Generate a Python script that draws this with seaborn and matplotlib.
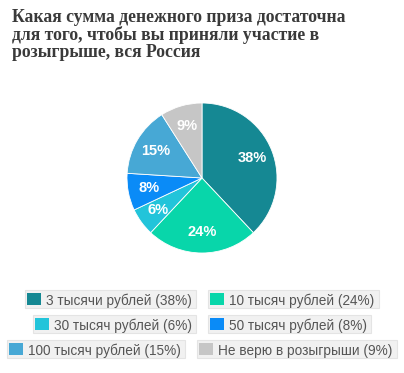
import matplotlib
matplotlib.use("Agg")
import matplotlib.pyplot as plt
from matplotlib.patches import Rectangle
import seaborn as sns

# data
categories = ["3 тысячи рублей", "10 тысяч рублей", "30 тысяч рублей",
              "50 тысяч рублей", "100 тысяч рублей", "Не верю в розыгрыши"]
shares = [38, 24, 6, 8, 15, 9]
colors = ["#158893", "#08d6aa", "#22c4da", "#0a8bf7", "#47a8d5", "#c6c6c6"]
title_lines = ["Какая сумма денежного приза достаточна",
               "для того, чтобы вы приняли участие в",
               "розыгрыше, вся Россия"]
legend_rows = [[0, 1], [2, 3], [4, 5]]

sns.set_theme(style="white")
plt.rcParams['font.family'] = ['Liberation Sans', 'DejaVu Sans']

W, H = 404, 373
fig = plt.figure(figsize=(W / 100, H / 100), dpi=100)
fig.patch.set_facecolor("white")

# pie: center (202,178) px, radius 75 px
cx, cy, r = 202, 178, 75
ax = fig.add_axes([(cx - r) / W, (H - cy - r) / H, 2 * r / W, 2 * r / H])
wedges, texts, autotexts = ax.pie(
    shares, colors=colors, startangle=90, counterclock=False,
    autopct=lambda p: f"{p:.0f}%", pctdistance=0.72,
    wedgeprops=dict(linewidth=0.6, edgecolor="white"),
    textprops=dict(color="white", fontsize=10.5, fontweight="bold"))
ax.set_xlim(-1, 1)
ax.set_ylim(-1, 1)
ax.set_aspect("equal")
ax.axis("off")

fig.canvas.draw()
rend = fig.canvas.get_renderer()

# title: serif bold, first line about 336 px wide, baselines 17 px apart
serif = ["Liberation Serif", "DejaVu Serif"]
tfs = 10
probe = fig.text(0, 0, title_lines[0], fontsize=tfs, fontweight="bold", family=serif)
tfs = tfs * 334 / probe.get_window_extent(rend).width
probe.remove()
for k, line in enumerate(title_lines):
    fig.text(12 / W, 1 - (22.5 + 17.2 * k) / H, line, ha="left", va="baseline",
             fontsize=tfs, fontweight="bold", color="#3a3a3a", family=serif)

# legend: one grey box per item, rows centered
fs = 9.8
sq, pad_l, gap_sq, pad_r, box_h, item_gap = 14, 2, 5, 4, 18, 12
row_y = [299, 324, 349]
for row, yc in zip(legend_rows, row_y):
    items = []
    for i in row:
        lab = f"{categories[i]} ({shares[i]}%)"
        t = fig.text(0, 0, lab, fontsize=fs, color="#555555")
        tw = t.get_window_extent(rend).width
        t.remove()
        items.append((i, lab, tw, pad_l + sq + gap_sq + tw + pad_r))
    total = sum(it[3] for it in items) + item_gap * (len(items) - 1)
    x = 202 - total / 2
    for i, lab, tw, bw in items:
        fig.add_artist(Rectangle((x / W, 1 - (yc + box_h / 2) / H), bw / W, box_h / H,
                                 transform=fig.transFigure, facecolor="#f1f1f1",
                                 edgecolor="#e4e4e4", linewidth=0.8))
        fig.add_artist(Rectangle(((x + pad_l) / W, 1 - (yc + sq / 2 - 1) / H), sq / W, (sq - 2) / H,
                                 transform=fig.transFigure, facecolor=colors[i],
                                 edgecolor="none"))
        fig.text((x + pad_l + sq + gap_sq) / W, 1 - yc / H, lab, fontsize=fs,
                 color="#555555", va="center_baseline", ha="left")
        x += bw + item_gap

fig.savefig("out.png", dpi=100, facecolor="white")
